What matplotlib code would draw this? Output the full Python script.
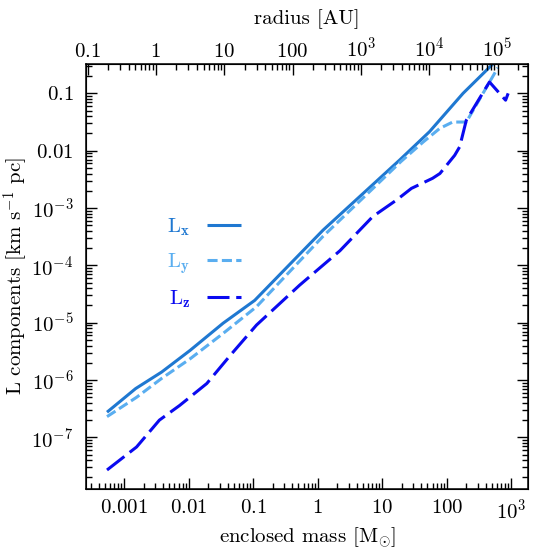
#!/usr/bin/env python3
"""Angular momentum components vs enclosed mass (with radius on top axis)."""

import matplotlib
matplotlib.use("Agg")
import matplotlib.pyplot as plt
import numpy as np
from matplotlib.ticker import FuncFormatter, LogLocator, NullFormatter


# values
LX_MASS = [5.4e-4, 1.5e-3, 3.8e-3, 0.0105, 0.034, 0.105, 1.2, 18.6, 53.7, 178, 537]
LX_VAL = [2.75e-7, 7.1e-7, 1.38e-6, 3.3e-6, 9.8e-6, 2.45e-5, 4.1e-4, 6.9e-3, 0.0214, 0.1, 0.34]

LY_MASS = [5.4e-4, 1.55e-3, 3.8e-3, 0.0105, 0.034, 0.112, 1.2, 19.5, 42.7, 77.6, 123, 200, 617]
LY_VAL = [2.3e-7, 5.0e-7, 1.07e-6, 2.35e-6, 6.5e-6, 1.9e-5, 3.2e-4, 6.5e-3, 0.0141, 0.0245,
          0.0316, 0.0316, 0.28]

LZ_MASS = [5.4e-4, 1.55e-3, 3.5e-3, 7.2e-3, 0.019, 0.044, 0.112, 0.52, 2.2, 7.1, 16.6, 28.2,
           60, 78, 132, 158, 200, 457, 813, 891]
LZ_VAL = [2.7e-8, 6.8e-8, 2.0e-7, 3.6e-7, 8.7e-7, 2.7e-6, 9.1e-6, 4.5e-5, 1.8e-4, 7.1e-4,
          1.38e-3, 2.2e-3, 3.3e-3, 4.0e-3, 8.3e-3, 0.0117, 0.034, 0.158, 0.076, 0.1]

MASS_LIM = (2.55e-4, 1.84e3)
RADIUS_LIM = (0.095, 2.84e5)
L_LIM = (1.26e-8, 0.325)

COLORS = {"x": "#1f78d1", "y": "#5aaef0", "z": "#0a0af0"}
FS = 15


def log_label(plain_min, plain_max):
    def _fmt(v, _pos):
        if v <= 0:
            return ""
        e = int(round(np.log10(v)))
        if abs(np.log10(v) - e) > 1e-6:
            return ""
        if plain_min <= e <= plain_max:
            return rf"$\mathdefault{{{v:.{max(0, -e)}f}}}$"
        return rf"$\mathdefault{{10^{{{e}}}}}$"
    return FuncFormatter(_fmt)


def style_log_axis(axis, plain_min, plain_max):
    axis.set_major_locator(LogLocator(base=10, numticks=30))
    axis.set_minor_locator(LogLocator(base=10, subs=np.arange(2, 10), numticks=30))
    axis.set_major_formatter(log_label(plain_min, plain_max))
    axis.set_minor_formatter(NullFormatter())


def main():
    plt.rcParams["font.family"] = "cmr10"
    plt.rcParams["mathtext.fontset"] = "cm"
    plt.rcParams["axes.formatter.use_mathtext"] = True

    fig = plt.figure(figsize=(5.58, 5.58), dpi=100)
    ax = fig.add_axes([0.1541, 0.1237, 0.7930, 0.7616])

    lw = 2.2
    ax.plot(LX_MASS, LX_VAL, color=COLORS["x"], lw=lw, solid_capstyle="butt",
            label=r"L$_\mathbf{x}$")
    ax.plot(LY_MASS, LY_VAL, color=COLORS["y"], lw=lw, ls=(0, (3.3, 1.4)),
            dash_capstyle="butt", label=r"L$_\mathbf{y}$")
    ax.plot(LZ_MASS, LZ_VAL, color=COLORS["z"], lw=lw, ls=(0, (7.2, 2.2)),
            dash_capstyle="butt", label=r"L$_\mathbf{z}$")

    ax.set_xscale("log")
    ax.set_yscale("log")
    ax.set_xlim(*MASS_LIM)
    ax.set_ylim(*L_LIM)
    style_log_axis(ax.xaxis, -3, 2)
    style_log_axis(ax.yaxis, -2, 2)

    ax.tick_params(which="both", direction="in", right=True, top=False,
                   labelsize=FS, width=1.0)
    ax.tick_params(axis="x", pad=7)
    ax.tick_params(axis="y", pad=9)
    ax.tick_params(which="major", length=8)
    ax.tick_params(which="minor", length=4)
    for sp in ax.spines.values():
        sp.set_linewidth(1.1)

    ax.set_xlabel(r"enclosed mass [M$_{\odot}$]", fontsize=FS, labelpad=2)
    ax.set_ylabel(r"L components [km s$^{-1}$ pc]", fontsize=FS, labelpad=1)

    # radius along the top
    ax2 = ax.twiny()
    ax2.set_xscale("log")
    ax2.set_xlim(*RADIUS_LIM)
    style_log_axis(ax2.xaxis, -1, 2)
    ax2.tick_params(which="both", direction="in", labelsize=FS, width=1.0, pad=2)
    ax2.tick_params(which="major", length=8)
    ax2.tick_params(which="minor", length=4)
    ax2.set_xlabel("radius [AU]", fontsize=FS, labelpad=9)

    ax.legend(loc="upper left", bbox_to_anchor=(0.16, 0.665), frameon=False,
              markerfirst=False, fontsize=FS, handlelength=1.6, handletextpad=0.8,
              labelspacing=0.6, borderpad=0, labelcolor="linecolor")

    fig.savefig("out.png", dpi=100)
    plt.close(fig)


if __name__ == "__main__":
    main()
